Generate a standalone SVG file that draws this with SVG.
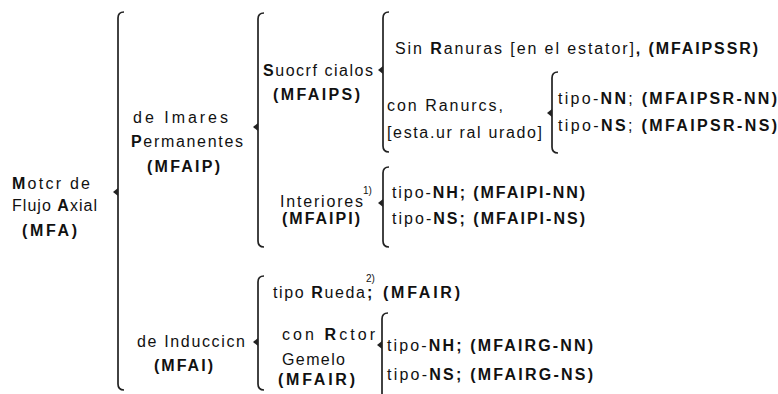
<svg xmlns="http://www.w3.org/2000/svg" width="778" height="394" viewBox="0 0 778 394">
<style>
text{font-family:"Liberation Sans",Arial,sans-serif;font-size:16px;fill:#111}
.b{font-weight:bold}
.sup{font-size:10px}
.br{fill:none;stroke:#222;stroke-width:1.7}
.tk{fill:#222}
</style>
<rect width="778" height="394" fill="#fff"/>
<g id="connectors">
<path class="br" d="M124 12 Q118 12 118 18 L118 384 Q118 390 124 390"/><polygon class="tk" points="113,192 118,188 118,196"/>
<path class="br" d="M264 13 Q258 13 258 19 L258 241 Q258 247 264 247"/><polygon class="tk" points="253,127 258,123 258,131"/>
<path class="br" d="M264 276 Q258 276 258 282 L258 384 Q258 390 264 390"/><polygon class="tk" points="253,342 258,338 258,346"/>
<path class="br" d="M389 12 Q383 12 383 18 L383 146 Q383 152 389 152"/><polygon class="tk" points="378,70 383,66 383,74"/>
<path class="br" d="M558 72 Q552 72 552 78 L552 147 Q552 153 558 153"/><polygon class="tk" points="547,113 552,109 552,117"/>
<path class="br" d="M389 167 Q383 167 383 173 L383 241 Q383 247 389 247"/><polygon class="tk" points="378,203 383,199 383,207"/>
<path class="br" d="M388 313 Q382 313 382 319 L382 394"/><polygon class="tk" points="377,345 382,341 382,349"/>
</g>
<g id="n-mfa">
<text x="12" y="189" textLength="78" lengthAdjust="spacing"><tspan class="b">M</tspan>otcr de</text>
<text x="12" y="211" textLength="85" lengthAdjust="spacing">Flujo <tspan class="b">A</tspan>xial</text>
<text x="22" y="236" class="b" textLength="55" lengthAdjust="spacing">(MFA)</text>
</g>
<g id="n-mfaip">
<text x="133" y="123" textLength="95" lengthAdjust="spacing">de Imares</text>
<text x="131" y="147" textLength="112" lengthAdjust="spacing"><tspan class="b">P</tspan>ermanentes</text>
<text x="147" y="172" class="b" textLength="73" lengthAdjust="spacing">(MFAIP)</text>
</g>
<g id="n-mfaips">
<text x="263" y="76" textLength="110" lengthAdjust="spacing"><tspan class="b">S</tspan>uocrf cialos</text>
<text x="273" y="100" class="b" textLength="87" lengthAdjust="spacing">(MFAIPS)</text>
</g>
<g id="n-mfaipssr">
<text x="395" y="54" textLength="363" lengthAdjust="spacing">Sin <tspan class="b">R</tspan>anuras  [en el estator]<tspan class="b">,</tspan> <tspan class="b">(MFAIPSSR)</tspan></text>
</g>
<g id="n-mfaipsr">
<text x="387" y="111" textLength="116" lengthAdjust="spacing">con Ranurcs,</text>
<text x="387" y="138" textLength="155" lengthAdjust="spacing">[esta.ur ral urado]</text>
</g>
<g id="n-mfaipsr-nn">
<text x="558" y="104" textLength="219" lengthAdjust="spacing">tipo-<tspan class="b">NN</tspan>; <tspan class="b">(MFAIPSR-NN)</tspan></text>
</g>
<g id="n-mfaipsr-ns">
<text x="558" y="131" textLength="219" lengthAdjust="spacing">tipo-<tspan class="b">NS</tspan>; <tspan class="b">(MFAIPSR-NS)</tspan></text>
</g>
<g id="n-mfaipi">
<text x="280" y="207" textLength="83" lengthAdjust="spacing">Interiores</text>
<text x="363" y="194" class="sup">1)</text>
<text x="282" y="224" class="b" textLength="78" lengthAdjust="spacing">(MFAIPI)</text>
</g>
<g id="n-mfaipi-nn">
<text x="392" y="198" textLength="193" lengthAdjust="spacing">tipo-<tspan class="b">NH</tspan><tspan class="b">;</tspan> <tspan class="b">(MFAIPI-NN)</tspan></text>
</g>
<g id="n-mfaipi-ns">
<text x="392" y="224" textLength="193" lengthAdjust="spacing">tipo-<tspan class="b">NS</tspan><tspan class="b">;</tspan> <tspan class="b">(MFAIPI-NS)</tspan></text>
</g>
<g id="n-mfai">
<text x="137" y="347" textLength="108" lengthAdjust="spacing">de Induccicn</text>
<text x="154" y="371" class="b" textLength="59" lengthAdjust="spacing">(MFAI)</text>
</g>
<g id="n-mfair">
<text x="273" y="298" textLength="92" lengthAdjust="spacing">tipo <tspan class="b">R</tspan>ueda</text>
<text x="366" y="282" class="sup">2)</text>
<text x="367" y="298" class="b">;</text>
<text x="383" y="298" class="b" textLength="77" lengthAdjust="spacing">(MFAIR)</text>
</g>
<g id="n-mfairg">
<text x="282" y="340" textLength="93" lengthAdjust="spacing">con <tspan class="b">R</tspan>ctor</text>
<text x="282" y="365" textLength="63" lengthAdjust="spacing">Gemelo</text>
<text x="278" y="385" class="b" textLength="77" lengthAdjust="spacing">(MFAIR)</text>
</g>
<g id="n-mfairg-nn">
<text x="387" y="351" textLength="206" lengthAdjust="spacing">tipo-<tspan class="b">NH</tspan><tspan class="b">;</tspan> <tspan class="b">(MFAIRG-NN)</tspan></text>
</g>
<g id="n-mfairg-ns">
<text x="387" y="380" textLength="206" lengthAdjust="spacing">tipo-<tspan class="b">NS</tspan><tspan class="b">;</tspan> <tspan class="b">(MFAIRG-NS)</tspan></text>
</g>
</svg>
